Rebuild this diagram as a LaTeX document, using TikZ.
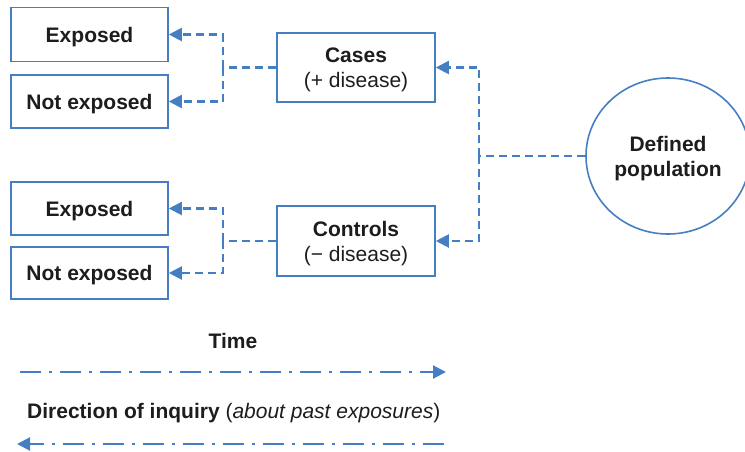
\documentclass[tikz,border=0pt]{standalone}
\usepackage{fontspec}
\setmainfont{Liberation Sans}
\usetikzlibrary{arrows.meta,shapes.geometric}
\definecolor{lblue}{RGB}{70,126,196}
\definecolor{txt}{RGB}{30,28,28}
\begin{document}
\begin{tikzpicture}[x=1pt,y=-1pt,
  box/.style={draw=lblue,line width=1.6pt,minimum width=157pt,inner sep=0pt,text depth=0pt,align=center,text=txt,font=\fontsize{21}{25}\selectfont},
  conn/.style={draw=lblue,line width=2.1pt,dash pattern=on 8pt off 5pt},
  tip/.style={-{Triangle[length=13pt,width=13pt]}},
  dd/.style={draw=lblue,line width=2.1pt,dash pattern=on 21pt off 8pt on 3pt off 8pt},
  lbl/.style={text=txt,font=\fontsize{21}{25}\selectfont,inner sep=0pt}]
\useasboundingbox (0,0) rectangle (745,451);
\node[box,minimum height=54pt] (e1) at (89.5,34.5) {\bfseries Exposed};
\node[box,minimum height=53pt] (n1) at (89.5,101.5) {\bfseries Not exposed};
\node[box,minimum height=53pt] (e2) at (89.5,208.5) {\bfseries Exposed};
\node[box,minimum height=52pt] (n2) at (89.5,273) {\bfseries Not exposed};
\node[box,minimum width=158pt,minimum height=69pt] (cases) at (356,67.5) {\bfseries Cases\\(+ disease)};
\node[box,minimum width=158pt,minimum height=70pt] (controls) at (356,241) {\bfseries Controls\\(− disease)};
\node[ellipse,draw=lblue,line width=1.6pt,minimum width=164pt,minimum height=156pt,inner sep=0pt,text depth=0pt,align=center,text=txt,font=\fontsize{21}{25}\selectfont] (pop) at (668,156) {\bfseries Defined\\\bfseries population};
\coordinate (j1) at (223,67.5);
\coordinate (j2) at (223,241);
\coordinate (j3) at (479,156);
\draw[conn] (cases.west) -- (j1);
\draw[conn,tip] (j1) |- (e1.east);
\draw[conn,tip] (j1) |- (n1.east);
\draw[conn] (controls.west) -- (j2);
\draw[conn,tip] (j2) |- (e2.east);
\draw[conn,tip] (j2) |- (n2.east);
\draw[conn] (pop.west) -- (j3);
\draw[conn,tip] (j3) |- (cases.east);
\draw[conn,tip] (j3) |- (controls.east);
\node[lbl,anchor=base] (time) at (233,348) {\bfseries Time};
\coordinate (t1) at (20,372);
\coordinate (t2) at (446,372);
\draw[dd,tip] (t1) -- (t2);
\node[lbl,anchor=base west] (dir) at (27,418) {\textbf{Direction of inquiry} (\textit{about past exposures})};
\coordinate (d1) at (444,444);
\coordinate (d2) at (17,444);
\draw[dd,tip] (d1) -- (d2);
\end{tikzpicture}
\end{document}
